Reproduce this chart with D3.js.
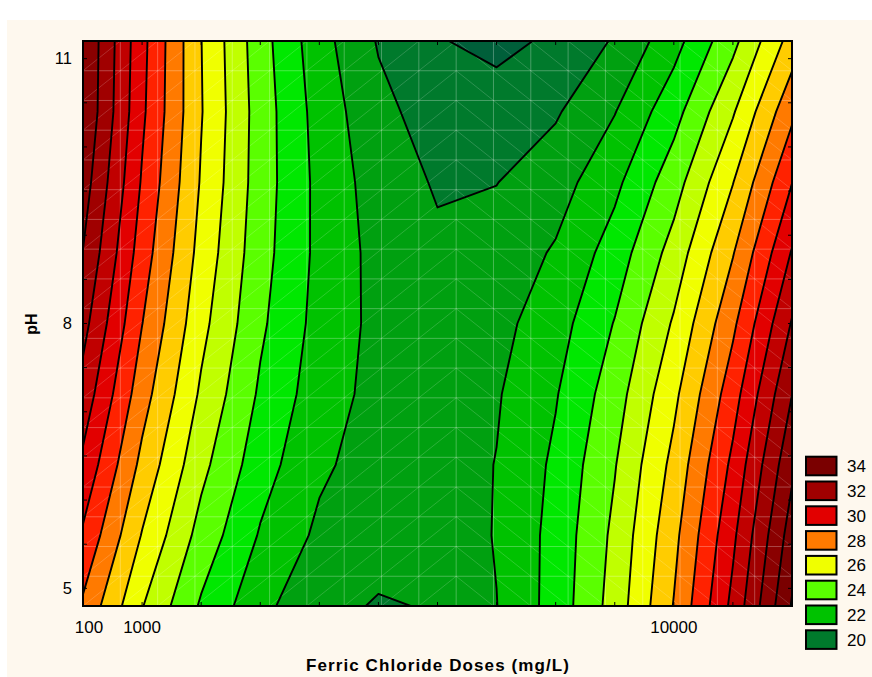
<!DOCTYPE html>
<html><head><meta charset="utf-8">
<script src="https://cdn.jsdelivr.net/npm/d3@7"></script>
<style>
body{margin:0;background:#ffffff;}
text{font-family:"Liberation Sans",Arial,Helvetica,sans-serif;fill:#000;}
</style>
</head><body>
<svg id="chart" width="872" height="677"></svg>
<script>
// ---- data ----
// x grid: ferric chloride dose (mg/L)
const doses = [0,1000,2000,3000,4000,5000,6000,7000,8000,9000,10000,11000,12000];
// y grid: pH
const phLevels = [4.8,5.6,6.4,7.2,8.0,8.8,9.6,10.4,11.2];
// response values, one row per pH level (bottom row first)
const zPH48  = [28.83,26.05,23.87,22.29,21.22,20.94,21.05,21.98,23.40,25.42,28.05,31.27,35.09];
const zPH56  = [29.85,26.94,24.63,22.91,21.80,21.29,21.37,22.06,23.34,25.23,27.72,30.80,34.49];
const zPH64  = [30.78,27.73,25.28,23.43,22.18,21.53,21.48,22.03,23.19,24.94,27.29,30.24,33.79];
const zPH72  = [31.61,28.43,25.84,23.85,22.47,21.68,21.50,21.91,22.93,24.54,26.76,29.57,32.99];
const zPH80  = [32.34,29.02,26.30,24.18,22.65,21.73,21.41,21.69,22.57,24.05,26.12,28.80,32.08];
const zPH88  = [32.97,29.51,26.65,24.39,22.74,21.68,21.18,21.40,22.11,23.45,25.39,27.94,31.08];
const zPH96  = [33.49,29.90,26.91,24.51,22.72,21.53,20.90,20.98,21.55,22.76,24.56,26.97,29.98];
const zPH104 = [33.92,30.19,27.06,24.53,22.60,21.27,20.55,20.42,20.89,21.96,23.63,25.90,28.77];
const zPH112 = [33.97,30.30,27.02,24.42,22.38,20.92,20.06,19.75,20.16,21.10,22.62,24.72,27.42];
const zRows = [zPH48,zPH56,zPH64,zPH72,zPH80,zPH88,zPH96,zPH104,zPH112];

// contour levels and colours
const thresholds = [20,21,22,23,24,25,26,27,28,29,30,31,32,33,34,35];
const baseColor = "#005f3a";
const bandColors = ["#007a2c","#00a010","#00c200","#00e800","#5aff00","#c0ff00","#f0ff00","#ffcc00",
                    "#ff7a00","#ff2200","#e20000","#c00000","#a00000","#8a0000","#7a0000","#680000"];
const legendLevels = [34,32,30,28,26,24,22,20];
const xTickLabels = [100,1000,10000];
const yTickLabels = [5,8,11];
const xMinorTicks = [1000,2000,3000,4000,5000,6000,7000,8000,9000,10000,11000];
const yMinorTicks = [5,5.5,6,6.5,7,7.5,8,8.5,9,9.5,10,10.5,11];

// ---- layout ----
const L = 83, R = 792, T = 41, B = 606;
const svg = d3.select("#chart");
svg.append("rect").attr("x",7).attr("y",20).attr("width",865).attr("height",657).attr("fill","#fef8ee");

const X = d3.scaleLinear().domain([0,12000]).range([L,R]);
const Y = d3.scaleLinear().domain([4.8,11.2]).range([B,T]);
// grid-index -> data coordinates (d3.contours puts sample i at i+0.5)
const gx = d3.scaleLinear().domain([0.5, doses.length-0.5]).range([doses[0], doses[doses.length-1]]);
const gy = d3.scaleLinear().domain([0.5, phLevels.length-0.5]).range([phLevels[0], phLevels[phLevels.length-1]]);
const proj = d3.geoTransform({point(px,py){ this.stream.point(X(gx(px)), Y(gy(py))); }});
const path = d3.geoPath(proj);

svg.append("clipPath").attr("id","plotclip").append("rect")
  .attr("x",L).attr("y",T).attr("width",R-L).attr("height",B-T);
const g = svg.append("g").attr("clip-path","url(#plotclip)");

g.append("rect").attr("x",L).attr("y",T).attr("width",R-L).attr("height",B-T).attr("fill",baseColor);

const values = zRows.flat();
const contours = d3.contours().size([doses.length, phLevels.length]).thresholds(thresholds)(values);

contours.forEach((c,i)=>{
  g.append("path").attr("d", path(c)).attr("fill", bandColors[i]).attr("stroke","none");
});

// faint triangulated mesh texture
const nCell = 19;
const cw = (R-L)/nCell, ch = (B-T)/nCell;
let gridD = "";
for(let k=1;k<nCell;k++){
  gridD += `M${L+k*cw},${T}V${B}`;
  gridD += `M${L},${T+k*ch}H${R}`;
}
g.append("path").attr("d",gridD).attr("stroke","#ffffff").attr("stroke-opacity",0.28).attr("stroke-width",1).attr("fill","none");
let diagD = "";
for(let i=0;i<nCell;i++){
  for(let j=0;j<nCell;j++){
    const x0=L+i*cw, x1=L+(i+1)*cw, y0=T+j*ch, y1=T+(j+1)*ch;
    if(i<10) diagD += `M${x0},${y1}L${x1},${y0}`;
    else diagD += `M${x0},${y0}L${x1},${y1}`;
  }
}
g.append("path").attr("d",diagD).attr("stroke","#ffffff").attr("stroke-opacity",0.22).attr("stroke-width",0.8).attr("fill","none");

contours.forEach((c)=>{
  g.append("path").attr("d", path(c)).attr("fill","none").attr("stroke","#000").attr("stroke-width",1.9).attr("stroke-linejoin","round");
});

// frame
svg.append("rect").attr("x",L).attr("y",T).attr("width",R-L).attr("height",B-T)
  .attr("fill","none").attr("stroke","#000").attr("stroke-width",2);

// minor ticks (inside)
const tk = svg.append("g").attr("stroke","#000").attr("stroke-width",1);
xMinorTicks.forEach(v=>{
  tk.append("line").attr("x1",X(v)).attr("x2",X(v)).attr("y1",B).attr("y2",B-4);
  tk.append("line").attr("x1",X(v)).attr("x2",X(v)).attr("y1",T).attr("y2",T+4);
});
yMinorTicks.forEach(v=>{
  tk.append("line").attr("x1",L).attr("x2",L+4).attr("y1",Y(v)).attr("y2",Y(v));
  tk.append("line").attr("x1",R).attr("x2",R-4).attr("y1",Y(v)).attr("y2",Y(v));
});

// tick labels
const fs = 17;
xTickLabels.forEach(v=>{
  svg.append("text").attr("x",X(v)).attr("y",633).attr("text-anchor","middle")
    .attr("font-size",fs).text(v);
});
yTickLabels.forEach(v=>{
  svg.append("text").attr("x",72).attr("y",Y(v)+5.5).attr("text-anchor","end")
    .attr("font-size",16.5).text(v);
});

// axis titles
svg.append("text").attr("x",438).attr("y",671).attr("text-anchor","middle")
  .attr("font-size",17).attr("font-weight","bold").attr("letter-spacing","1.1px")
  .text("Ferric Chloride Doses (mg/L)");
svg.append("text").attr("transform","translate(37,324) rotate(-90)").attr("text-anchor","middle")
  .attr("font-size",16).attr("font-weight","bold").text("pH");

// legend
const lg = svg.append("g");
legendLevels.forEach((lv,i)=>{
  const cy = 466 + i*24.8;
  lg.append("rect").attr("x",806).attr("y",cy-9.3).attr("width",30.5).attr("height",18.6)
    .attr("fill", bandColors[thresholds.indexOf(lv)]).attr("stroke","#000").attr("stroke-width",2);
  lg.append("text").attr("x",847).attr("y",cy+6.2).attr("font-size",fs).text(lv);
});
</script>
</body></html>
